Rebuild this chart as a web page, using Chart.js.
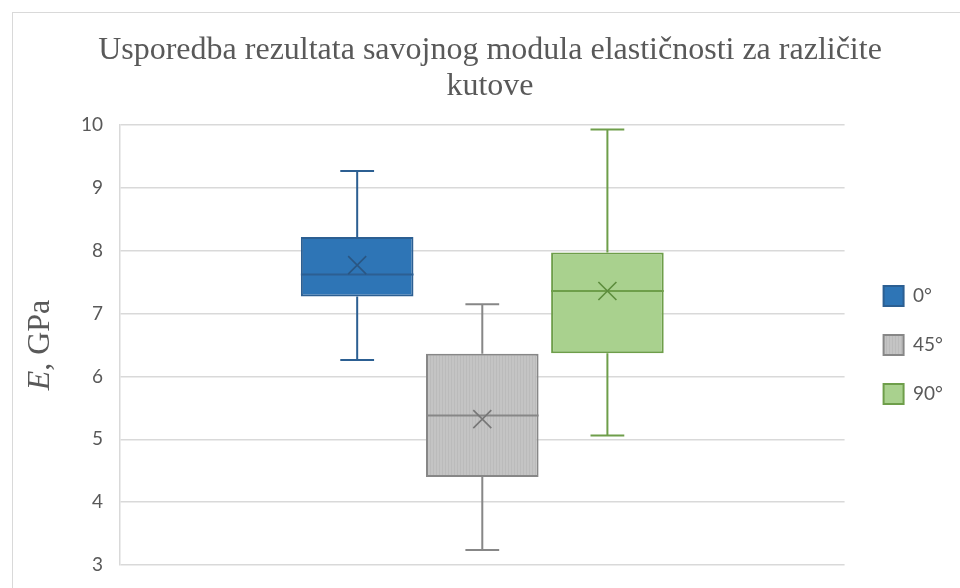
<!DOCTYPE html>
<html lang="hr">
<head>
<meta charset="utf-8">
<title>Savojni modul elastičnosti</title>
<script src="https://cdn.jsdelivr.net/npm/chart.js@4.4.1/dist/chart.umd.min.js"></script>
<style>
    html, body {
        margin: 0;
        padding: 0;
        background: #ffffff;
    }
    #wrap {
        position: relative;
        width: 960px;
        height: 588px;
        overflow: hidden;
    }
    #frame {
        position: absolute;
        left: 12px;
        top: 12px;
        width: 980px;
        height: 600px;
        border: 1px solid #d9d9d9;
    }
    #boxChart {
        position: absolute;
        left: 0;
        top: 0;
    }
</style>
</head>
<body>
<div id="wrap">
    <div id="frame"></div>
    <canvas id="boxChart" width="960" height="588"></canvas>
</div>
<script>
// ==========================================================================
// Box plot data (E, GPa)
// ==========================================================================

const angles = ['0°', '45°', '90°'];
const minValues = [6.26, 3.24, 5.06];
const q1Values = [7.27, 4.40, 6.37];
const medianValues = [7.62, 5.38, 7.36];
const q3Values = [8.22, 6.36, 7.97];
const maxValues = [9.27, 7.15, 9.93];
const meanValues = [7.77, 5.32, 7.36];
const yTicks = [3, 4, 5, 6, 7, 8, 9, 10];

// fine striped fill used for the 45° box
function makeStripePattern() {
    const c = document.createElement('canvas');
    c.width = 3;
    c.height = 3;
    const g = c.getContext('2d');
    g.fillStyle = '#C4C4C4';
    g.fillRect(0, 0, 3, 3);
    g.fillStyle = '#BBBBBB';
    g.fillRect(1, 0, 1, 3);
    return g.createPattern(c, 'repeat');
}

const fillColors = ['#2E75B6', makeStripePattern(), '#A9D18E'];
const edgeColors = ['#2C5F92', '#878787', '#6E9E4A'];
const meanColors = ['#2A5683', '#777777', '#5C8C3C'];

const textGrey = '#595959';
const serif = "'Liberation Serif', 'Times New Roman', serif";

// whiskers, caps, median line and mean cross on top of each box
const boxDetails = {
    id: 'boxDetails',
    afterDatasetsDraw(chart) {
        const { ctx } = chart;
        const yScale = chart.scales.y;
        const py = v => yScale.getPixelForValue(v);

        chart.data.datasets.forEach((ds, i) => {
            const bar = chart.getDatasetMeta(i).data[0];
            if (!bar) return;
            const { x, width } = bar.getProps(['x', 'width'], true);
            const half = width / 2;
            const cap = width * 0.15;

            ctx.save();
            ctx.strokeStyle = edgeColors[i];
            ctx.lineWidth = 2;
            ctx.beginPath();
            // upper whisker
            ctx.moveTo(x, py(q3Values[i]));
            ctx.lineTo(x, py(maxValues[i]));
            ctx.moveTo(x - cap, py(maxValues[i]));
            ctx.lineTo(x + cap, py(maxValues[i]));
            // lower whisker
            ctx.moveTo(x, py(q1Values[i]));
            ctx.lineTo(x, py(minValues[i]));
            ctx.moveTo(x - cap, py(minValues[i]));
            ctx.lineTo(x + cap, py(minValues[i]));
            // median
            ctx.moveTo(x - half, py(medianValues[i]));
            ctx.lineTo(x + half, py(medianValues[i]));
            ctx.stroke();

            // mean marker
            const my = py(meanValues[i]);
            const s = 9;
            ctx.strokeStyle = meanColors[i];
            ctx.lineWidth = 1.6;
            ctx.beginPath();
            ctx.moveTo(x - s, my - s);
            ctx.lineTo(x + s, my + s);
            ctx.moveTo(x + s, my - s);
            ctx.lineTo(x - s, my + s);
            ctx.stroke();
            ctx.restore();
        });
    }
};

// y axis title with an italic symbol: "E, GPa"
const axisTitle = {
    id: 'axisTitle',
    afterDraw(chart) {
        const { ctx, chartArea } = chart;
        const size = 32;
        const italic = 'italic ' + size + 'px ' + serif;
        const upright = size + 'px ' + serif;
        const symbol = 'E';
        const unit = ', GPa';

        ctx.save();
        ctx.font = italic;
        const w1 = ctx.measureText(symbol).width;
        ctx.font = upright;
        const w2 = ctx.measureText(unit).width;

        ctx.translate(chart.scales.y.left + 14, (chartArea.top + chartArea.bottom) / 2);
        ctx.rotate(-Math.PI / 2);
        ctx.fillStyle = textGrey;
        ctx.textBaseline = 'middle';
        ctx.textAlign = 'left';
        const start = -(w1 + w2) / 2;
        ctx.font = italic;
        ctx.fillText(symbol, start, 0);
        ctx.font = upright;
        ctx.fillText(unit, start + w1, 0);
        ctx.restore();
    }
};

const datasets = angles.map((label, i) => ({
    label: label,
    data: [[q1Values[i], q3Values[i]]],
    backgroundColor: fillColors[i],
    borderColor: edgeColors[i],
    borderWidth: 2,
    borderSkipped: false,
    categoryPercentage: 0.518,
    barPercentage: 0.9
}));

new Chart(document.getElementById('boxChart').getContext('2d'), {
    type: 'bar',
    data: {
        labels: [''],
        datasets: datasets
    },
    options: {
        responsive: false,
        animation: false,
        layout: {
            padding: { top: 0, right: 7, bottom: 23, left: 27 }
        },
        scales: {
            x: {
                display: false
            },
            y: {
                min: yTicks[0],
                max: yTicks[yTicks.length - 1],
                afterBuildTicks: (scale) => {
                    scale.ticks = yTicks.map(v => ({ value: v }));
                },
                afterFit: (scale) => {
                    scale.width = 93;
                },
                grid: {
                    color: '#d9d9d9',
                    lineWidth: 1.5,
                    drawTicks: true,
                    tickLength: 17,
                    tickColor: 'rgba(0, 0, 0, 0)'
                },
                border: {
                    display: true,
                    color: '#d9d9d9',
                    width: 1.5
                },
                ticks: {
                    color: textGrey,
                    padding: 0,
                    font: { family: 'Lato', size: 19 }
                }
            },
            gap: {
                type: 'linear',
                position: 'right',
                display: true,
                grid: { display: false },
                border: { display: false },
                ticks: { display: false },
                afterFit: (scale) => {
                    scale.width = 10;
                }
            }
        },
        plugins: {
            title: {
                display: true,
                text: ['Usporedba rezultata savojnog modula elastičnosti za različite', 'kutove'],
                color: textGrey,
                padding: { top: 33, bottom: 20 },
                font: { family: serif, size: 32, weight: 'normal', lineHeight: 1.125 }
            },
            legend: {
                position: 'right',
                fullSize: false,
                labels: {
                    boxWidth: 20,
                    boxHeight: 20,
                    padding: 29,
                    color: textGrey,
                    font: { family: 'Lato', size: 19 }
                }
            },
            tooltip: {
                enabled: false
            }
        }
    },
    plugins: [boxDetails, axisTitle]
});
</script>
</body>
</html>
